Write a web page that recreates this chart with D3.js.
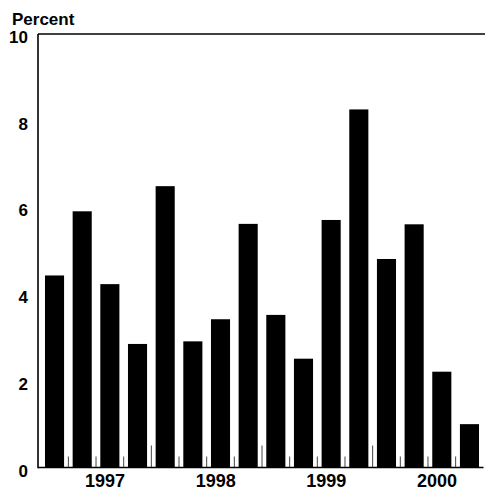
<!DOCTYPE html>
<html>
<head>
<meta charset="utf-8">
<script src="https://cdn.jsdelivr.net/npm/d3@7"></script>
<style>
  html, body { margin: 0; padding: 0; background: #fff; }
  svg { display: block; }
  text { font-family: "Liberation Sans", Arial, Helvetica, sans-serif; font-weight: bold; fill: #000; }
</style>
</head>
<body>
<svg id="chart" width="485" height="490"></svg>
<script>
// Data: quarterly values, 1997 Q1 through 2000 Q4
const quarters = ["1997Q1","1997Q2","1997Q3","1997Q4",
                  "1998Q1","1998Q2","1998Q3","1998Q4",
                  "1999Q1","1999Q2","1999Q3","1999Q4",
                  "2000Q1","2000Q2","2000Q3","2000Q4"];
const values = [4.43, 5.91, 4.23, 2.85, 6.49, 2.91, 3.42, 5.62,
                3.52, 2.51, 5.71, 8.26, 4.81, 5.61, 2.21, 1.00];
const years = ["1997", "1998", "1999", "2000"];
const yTicks = [0, 2, 4, 6, 8, 10];
const yLabel = "Percent";

(function () {
const svg = d3.select("#chart");
const mLeft = 38, mRight = 485, mTop = 34, mBottom = 467.5;

const x = d3.scaleBand()
  .domain(quarters)
  .range([40.7, 483.3])
  .paddingInner(0.31)
  .paddingOuter(0.155);

const y = d3.scaleLinear().domain([0, 10]).range([mBottom, mTop]);

const step = x.step();
const boundary = i => x(quarters[i]) - step * x.paddingInner() / 2;

// Bars
svg.append("g").selectAll("rect")
  .data(quarters)
  .join("rect")
  .attr("x", (d) => x(d))
  .attr("width", x.bandwidth())
  .attr("y", (d, i) => y(values[i]))
  .attr("height", (d, i) => y(0) - y(values[i]))
  .attr("fill", "#000");

// Tick marks at quarter boundaries (taller at year boundaries)
const tickIdx = d3.range(1, quarters.length);
svg.append("g").selectAll("line")
  .data(tickIdx)
  .join("line")
  .attr("x1", i => boundary(i))
  .attr("x2", i => boundary(i))
  .attr("y1", mBottom)
  .attr("y2", i => mBottom - (i % 4 === 0 ? 22 : 11))
  .attr("stroke", "#444")
  .attr("stroke-width", 1);

// Frame: left axis, top and bottom lines
svg.append("line").attr("x1", mLeft).attr("x2", mLeft).attr("y1", mTop).attr("y2", mBottom + 0.75)
  .attr("stroke", "#000").attr("stroke-width", 1.6);
svg.append("line").attr("x1", mLeft).attr("x2", mRight).attr("y1", mTop).attr("y2", mTop)
  .attr("stroke", "#000").attr("stroke-width", 1.4);
svg.append("line").attr("x1", mLeft).attr("x2", 483.5).attr("y1", mBottom).attr("y2", mBottom)
  .attr("stroke", "#000").attr("stroke-width", 1.5);

// Y tick labels
svg.append("g").selectAll("text")
  .data(yTicks)
  .join("text")
  .attr("x", 28)
  .attr("y", d => y(d) + 9)
  .attr("text-anchor", "end")
  .attr("font-size", 17)
  .text(d => d);

// Y label
svg.append("text")
  .attr("x", 12)
  .attr("y", 25)
  .attr("font-size", 17)
  .text(yLabel);

// Year labels (centred within each year's four quarters)
svg.append("g").selectAll("text")
  .data(years)
  .join("text")
  .attr("x", (d, i) => boundary(i * 4 + 2) + 9)
  .attr("y", 487)
  .attr("text-anchor", "middle")
  .attr("font-size", 18)
  .text(d => d);
})();
</script>
</body>
</html>
